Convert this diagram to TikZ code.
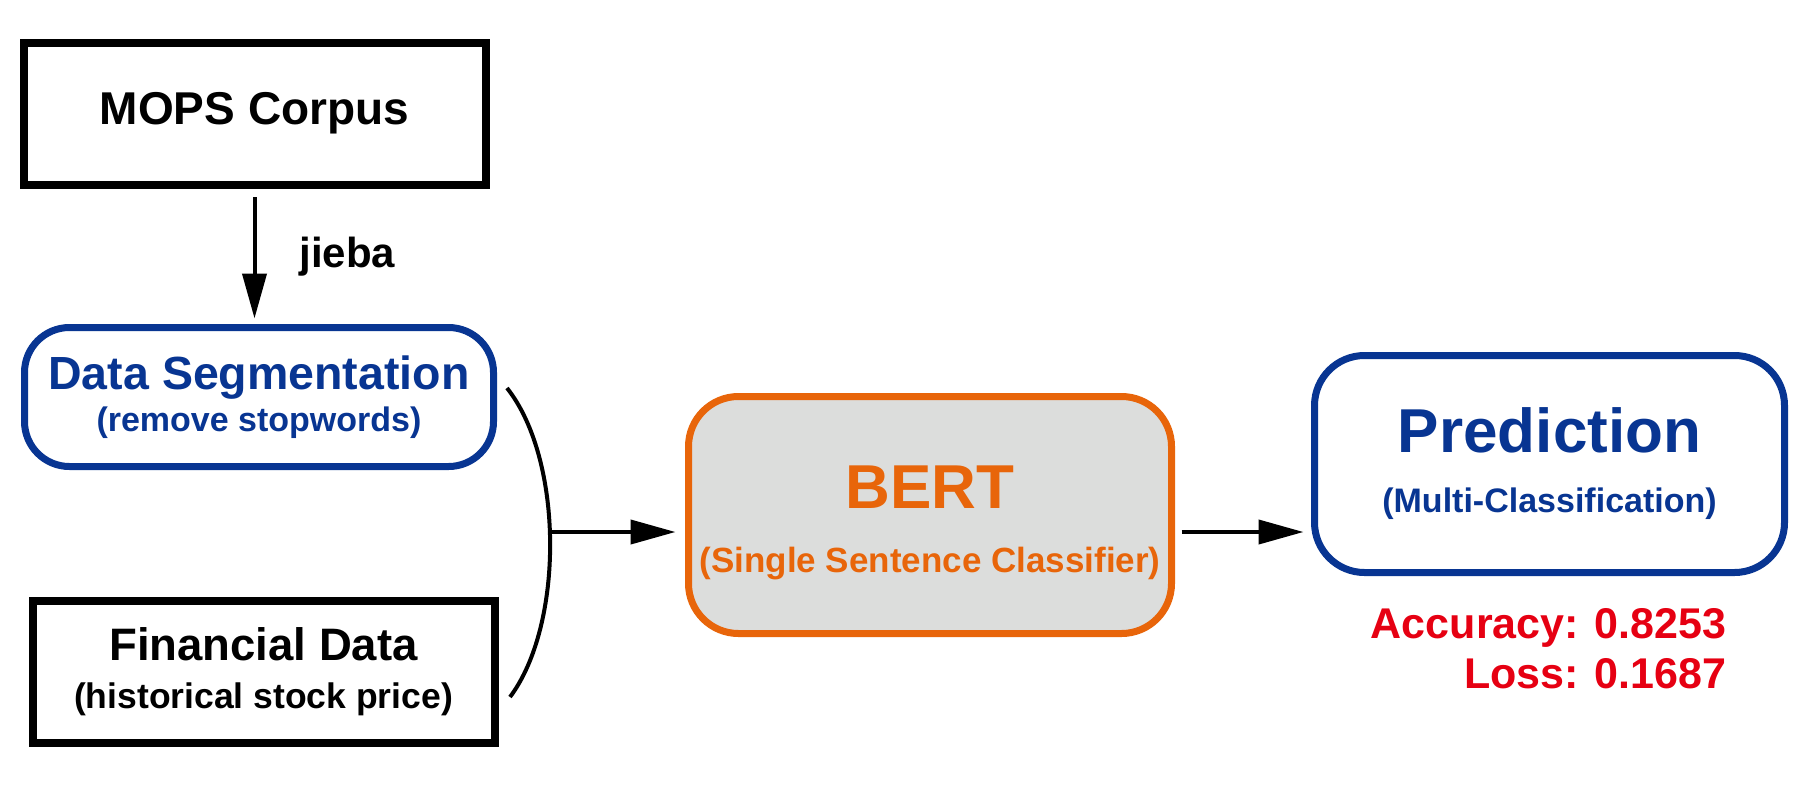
\documentclass[tikz,border=0pt]{standalone}
\usepackage{fontspec}
\setmainfont{Liberation Sans}
\usetikzlibrary{arrows.meta,positioning}
\definecolor{segblue}{HTML}{083592}
\definecolor{bertorange}{HTML}{E8650A}
\definecolor{bertgray}{HTML}{DCDDDC}
\definecolor{accred}{HTML}{E60012}

\begin{document}
\begin{tikzpicture}[x=1pt,y=-1pt,
  plainbox/.style={draw=black,line width=8pt,inner sep=0pt,minimum width=462pt,minimum height=142pt,align=center},
  roundbox/.style={draw=segblue,line width=7pt,rounded corners=45pt,inner sep=0pt,align=center,text=segblue},
  flow/.style={line width=4pt,-{Triangle[length=45pt,width=24pt]}}]
  \useasboundingbox (0,0) rectangle (1811,790);

  % left column
  \node (mops) [plainbox,font=\fontsize{46}{54}\selectfont\bfseries] at (254.5,113.5) {MOPS Corpus};
  \node (seg) [roundbox,minimum width=469pt,minimum height=139pt,font=\fontsize{46.5}{42}\selectfont\bfseries] at (259,397)
    {Data Segmentation\\\fontsize{34}{42}\selectfont(remove stopwords)};
  \node (fin) [plainbox,font=\fontsize{45.5}{48}\selectfont\bfseries] at (263.5,672)
    {Financial Data\\\fontsize{35.5}{48}\selectfont(historical stock price)};
  \draw[flow,shorten <=8.5pt,shorten >=5.5pt] (mops.south) -- (mops.south |- seg.north)
    node (jieba) [midway,right=43pt,inner sep=0pt,text=black,font=\fontsize{42}{50}\selectfont\bfseries] {jieba};

  % bracket joining both inputs
  \coordinate (brtop) at (507,388);
  \coordinate (brbot) at (510,697);
  \coordinate (brmid) at (550,532);
  \draw[line width=4pt] (brtop) .. controls (564,460) and (564,625) .. (brbot);

  % model and output
  \node (bert) [roundbox,draw=bertorange,fill=bertgray,text=bertorange,rounded corners=50pt,minimum width=483pt,minimum height=237pt,font=\fontsize{62}{64}\selectfont\bfseries] at (930,515)
    {\rule{0pt}{57.4pt}BERT\\\fontsize{35}{64}\selectfont(Single Sentence Classifier)};
  \node (pred) [roundbox,rounded corners=50pt,minimum width=470pt,minimum height=217pt,font=\fontsize{62}{60}\selectfont\bfseries] at (1549.5,464)
    {Prediction\\\fontsize{34}{60}\selectfont(Multi-Classification)};
  \node (score) [below left=32pt and 61.5pt of pred.south east,inner sep=0pt,align=right,text=accred,font=\fontsize{43}{50}\selectfont\bfseries]
    {Accuracy: 0.8253\\Loss: 0.1687};

  \draw[flow,shorten >=9.5pt] (brmid) -- (brmid -| bert.west);
  \draw[flow,shorten <=6.5pt,shorten >=7.5pt] (bert.east |- brmid) -- (brmid -| pred.west);
\end{tikzpicture}
\end{document}
